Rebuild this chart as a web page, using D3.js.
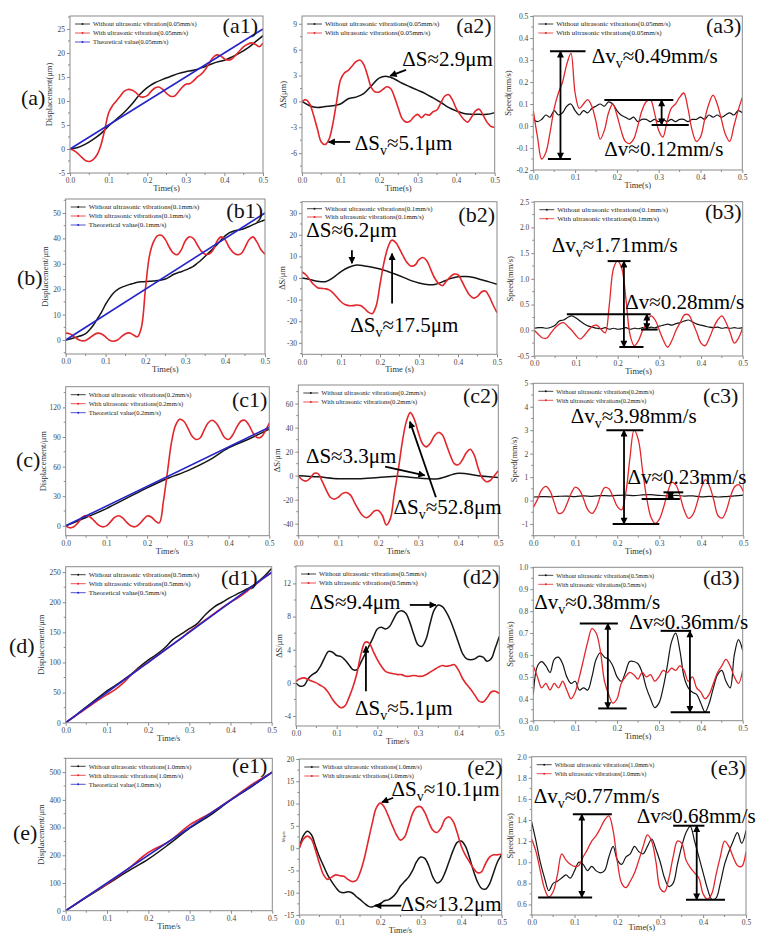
<!DOCTYPE html>
<html><head><meta charset="utf-8">
<script src="https://cdn.jsdelivr.net/npm/d3@7"></script>
<style>body{margin:0;background:#fff}svg{display:block}</style>
</head><body><svg id="c" width="766" height="945"></svg>
<script>
// ---------------- DATA ----------------
const T  = [0,0.01,0.02,0.03,0.04,0.05,0.06,0.07,0.08,0.09,0.1,0.11,0.12,0.13,0.14,0.15,0.16,0.17,0.18,0.19,0.2,0.21,0.22,0.23,0.24,0.25,0.26,0.27,0.28,0.29,0.3,0.31,0.32,0.33,0.34,0.35,0.36,0.37,0.38,0.39,0.4,0.41,0.42,0.43,0.44,0.45,0.46,0.47,0.48,0.49,0.5];
const T2 = [0,0.02,0.04,0.06,0.08,0.1,0.12,0.14,0.16,0.18,0.2,0.22,0.24,0.26,0.28,0.3,0.32,0.34,0.36,0.38,0.4,0.42,0.44,0.46,0.48,0.5];
const T5 = [0,0.05,0.1,0.15,0.2,0.25,0.3,0.35,0.4,0.45,0.5];
const TT = [0,0.5];
const xTicks = [0,0.1,0.2,0.3,0.4,0.5];
const xMinor = [0.05,0.15,0.25,0.35,0.45];

// (a) 0.05 mm/s
const a1_without = [0,0.3,1.0,2.0,3.2,4.8,6.2,7.6,9.3,11.3,12.8,13.8,14.5,15.1,15.7,16.1,16.4,16.9,17.5,18.1,18.5,19.2,20.0,21.0,22.3,23.6];
const a1_with = [0,-0.3,-0.9,-1.7,-2.4,-2.6,-2.2,-1.2,0.8,4.0,7.5,9.0,10.0,11.0,12.0,12.4,12.3,11.8,11.0,10.8,11.1,12.0,12.7,12.9,12.4,11.6,11.0,11.0,11.8,12.8,13.5,13.6,14.2,15.0,15.6,16.5,17.8,19.0,19.6,19.4,18.8,18.5,18.8,19.6,20.5,21.3,21.8,22.1,21.8,21.3,22.1];
const a1_theory = [0,25];
const a2_without = [0,-0.5,-0.7,-0.6,-0.5,-0.3,0.3,0.5,0.9,1.8,2.7,2.9,2.6,2.1,1.7,1.3,0.9,0.4,-0.1,-0.7,-1.1,-1.4,-1.5,-1.5,-1.5,-1.3];
const a2_with = [0,0.2,-0.3,-1.6,-3.2,-4.7,-5.0,-4.4,-2.6,0.0,2.5,3.3,3.6,4.1,4.6,4.8,4.3,3.0,1.6,1.1,1.1,1.4,1.7,1.5,0.5,-0.8,-2.0,-2.4,-2.3,-1.8,-1.5,-1.9,-1.5,-1.6,-1.2,-1.0,-0.2,0.6,0.8,0.2,-0.8,-1.5,-2.1,-2.4,-1.8,-1.1,-0.9,-1.6,-2.4,-2.9,-3.0];
const a3_without = [0.03,0.02,0.03,0.05,0.04,0.07,0.05,0.06,0.09,0.10,0.07,0.05,0.07,0.06,0.08,0.09,0.10,0.09,0.11,0.10,0.07,0.05,0.04,0.03,0.04,0.02,0.03,0.03,0.02,0.03,0.02,0.03,0.02,0.03,0.02,0.03,0.03,0.02,0.03,0.03,0.04,0.03,0.05,0.04,0.05,0.04,0.05,0.06,0.05,0.07,0.06];
const a3_with = [0.07,-0.05,-0.15,-0.12,-0.03,0.08,0.15,0.20,0.28,0.33,0.15,0.08,0.10,0.12,0.09,0.02,-0.06,-0.02,0.06,0.10,0.05,-0.02,-0.07,-0.08,-0.06,0.00,0.07,0.11,0.12,0.06,-0.02,-0.05,0.02,0.08,0.10,0.13,0.15,0.08,-0.02,-0.07,-0.05,0.03,0.10,0.14,0.10,0.03,-0.04,-0.07,0.00,0.07,0.13];

// (b) 0.1 mm/s
const b1_without = [0,0.4,0.8,1.3,1.8,2.5,4.0,6.0,8.5,11.0,14.0,16.5,18.5,19.8,20.7,21.3,21.9,22.3,22.7,22.9,23.0,23.1,23.2,23.4,23.6,24.0,24.8,25.8,26.4,26.9,27.5,28.2,29.0,30.2,31.5,33.0,34.5,36.0,37.6,39.4,41.0,42.2,42.8,43.2,43.5,44.0,44.7,45.4,46.1,46.7,47.3];
const b1_with = [2.7,2.5,1.5,0.3,-0.3,-0.2,0.8,2.0,2.7,2.4,1.2,-0.1,-0.5,0.0,1.3,2.5,2.8,2.0,1.3,5.0,20.0,33.0,38.5,41.0,41.2,39.5,36.5,34.2,33.6,35.5,39.0,40.6,40.0,37.5,35.0,33.8,33.8,35.5,39.0,40.6,39.5,36.5,34.5,33.6,34.0,36.5,39.5,40.6,38.5,35.5,33.8];
const b1_theory = [0,50];
const b2_without = [0,-0.7,-1.5,-1.7,0.2,3.0,5.0,6.0,5.6,5.0,4.2,3.0,1.7,0.3,-1.2,-2.3,-3.0,-3.0,-1.8,-0.3,0.6,0.7,0.2,-0.8,-1.8,-2.9];
const b2_with = [2.8,1.5,-0.8,-3.0,-4.5,-4.8,-5.0,-5.5,-7.0,-9.0,-11.0,-12.3,-12.8,-12.8,-12.5,-12.7,-14.0,-15.8,-16.5,-13.0,-3.0,7.0,14.0,17.5,16.5,13.5,10.0,7.0,5.5,6.0,8.5,9.5,8.0,4.0,0.0,-2.5,-3.5,-1.5,0.5,1.8,1.5,-1.5,-5.0,-8.0,-9.3,-8.5,-6.5,-6.0,-8.5,-12.5,-16.0];
const b3_without = [0.04,0.05,0.05,0.04,0.06,0.10,0.18,0.20,0.25,0.28,0.24,0.18,0.12,0.08,0.06,0.04,0.03,0.05,0.02,0.04,0.02,0.03,0.05,0.02,0.04,0.03,0.05,0.04,0.06,0.05,0.08,0.10,0.12,0.10,0.13,0.15,0.18,0.20,0.16,0.12,0.10,0.08,0.06,0.05,0.06,0.04,0.05,0.04,0.05,0.04,0.05];
const b3_with = [0.0,-0.08,-0.15,-0.15,-0.05,0.05,0.12,0.15,0.08,0.0,-0.1,-0.17,-0.1,0.0,0.08,0.1,0.02,-0.05,0.5,1.2,1.35,1.2,0.6,-0.1,-0.3,-0.2,0.0,0.15,0.28,0.2,0.0,-0.2,-0.33,-0.2,0.0,0.15,0.3,0.3,0.15,-0.05,-0.25,-0.3,-0.15,0.05,0.2,0.28,0.15,-0.05,-0.25,-0.15,0.05];

// (c) 0.2 mm/s
const c1_without = [0,8.5,17.5,28,38.5,48,56,66,79,88,98];
const c1_with = [0,-2,-1,3,8.5,10.5,9,5,1,-1,0,4,8.5,10.2,8,3.5,0,-1,1.5,6,10,9,5,3,25,55,85,102,108,106,99,91,87.5,89,97,104.5,107,104,97,89.5,87.5,92,100,106,107,102,94,89.5,90,96,104];
const c1_theory = [0,100];
const c2_without = [0,-1,-2.5,-2.5,-1.5,-0.5,-2,-2.5,2,0,-1.5];
const c2_with = [0,-3.5,-4.5,-2,2,1.5,-5,-12,-18,-19.5,-18,-15,-14,-16,-22,-28,-33,-35,-33,-29.5,-29,-33,-41,-36,-15,5,28,45,52.5,47,36,27,24,27,33,36,34,26,17,10,9,13,19,22,17,6,-2,-5,-4,0,4];
const c3_without = [0.15,0.17,0.16,0.18,0.19,0.17,0.2,0.18,0.21,0.2,0.22,0.23,0.21,0.24,0.25,0.22,0.2,0.22,0.19,0.2,0.16,0.18,0.15,0.17,0.2,0.23];
const c3_with = [-0.3,0.05,0.45,0.6,0.4,-0.1,-0.55,-0.5,-0.15,0.3,0.57,0.45,0.05,-0.4,-0.55,-0.3,0.2,0.55,0.5,0.15,-0.25,-0.4,0.3,1.8,3.0,2.6,1.3,0.1,-0.7,-0.97,-0.8,-0.3,0.35,0.77,0.65,0.15,-0.45,-0.76,-0.6,-0.1,0.55,0.89,0.6,0.0,-0.65,-0.75,-0.4,0.2,0.6,0.67,0.39];

// (d) 0.5 mm/s
const d1_without = [0,10,21,31.5,42,53,61.5,71,81,93,104,113,124,138,147,156,165,180,192,200,208,215,222,230,242,256];
const d1_with = [0,9.5,19,28.5,38,46.5,55,66,80,91,100,110,120,130,140,151,161,171,181,191,200,208,218,229,240,249];
const d1_theory = [0,250];
const d2_without = [0,-0.4,-0.3,0.5,1.0,1.3,2.0,3.0,3.8,3.7,3.3,3.2,2.8,2.2,1.6,1.6,2.5,3.5,4.5,5.5,6.5,6.7,6.5,6.8,7.7,8.5,8.7,8.4,7.3,5.8,4.6,4.4,5.3,7.2,8.8,9.4,9.2,8.5,7.5,6.2,4.8,3.5,2.9,2.8,2.9,3.2,3.1,2.6,2.9,4.2,5.6];
const d2_with = [0.2,0.5,0.6,0.4,0.2,0.0,-0.3,-0.6,-1.2,-2.0,-2.6,-3.0,-2.8,-1.8,-0.5,1.2,3.5,4.9,4.8,3.8,2.8,2.0,1.4,1.2,1.1,1.0,1.0,0.8,0.8,0.9,0.8,0.8,1.0,1.3,1.6,1.9,2.1,2.0,2.1,2.2,1.5,0.5,-0.2,-0.8,-1.5,-2.2,-2.3,-1.8,-1.1,-1.0,-1.3];
const d3_without = [0.42,0.55,0.57,0.55,0.52,0.58,0.59,0.56,0.5,0.47,0.48,0.44,0.45,0.44,0.5,0.58,0.61,0.59,0.58,0.55,0.5,0.48,0.52,0.57,0.57,0.56,0.52,0.45,0.4,0.36,0.38,0.45,0.55,0.66,0.7,0.62,0.5,0.45,0.43,0.42,0.38,0.34,0.38,0.45,0.51,0.53,0.48,0.45,0.6,0.67,0.62];
const d3_with = [0.55,0.5,0.45,0.47,0.44,0.47,0.45,0.48,0.44,0.4,0.43,0.5,0.58,0.66,0.72,0.7,0.62,0.48,0.42,0.38,0.4,0.47,0.5,0.52,0.51,0.49,0.52,0.5,0.51,0.48,0.5,0.53,0.52,0.54,0.53,0.55,0.53,0.48,0.5,0.45,0.43,0.4,0.42,0.47,0.52,0.55,0.58,0.55,0.5,0.47,0.53];

// (e) 1.0 mm/s
const e1_without = [0,48,95,142,186,240,298,345,400,448,500];
const e1_with = [0,50,97,150,210,250,310,352,402,455,500];
const e1_theory = [0,500];
const e2_without = [0,2.8,3.8,3.0,0.5,-2.0,-4.0,-6.0,-7.5,-8.8,-9.8,-10.0,-9.8,-10.0,-10.8,-11.5,-12.3,-13.0,-13.2,-12.8,-12.5,-11.8,-11.6,-11.0,-10.0,-8.5,-7.5,-6.5,-5.0,-3.0,-2.0,-2.3,-4.0,-6.5,-7.8,-7.3,-5.5,-3.0,-0.5,1.3,1.6,0.5,-2.0,-5.0,-7.5,-9.0,-9.2,-8.0,-5.5,-3.0,-1.5];
const e2_with = [0,2.0,2.7,2.0,-0.5,-3.5,-6.0,-7.0,-6.5,-6.0,-6.2,-6.3,-7.0,-7.5,-7.3,-5.5,-2.5,1.5,5.5,9.0,10.1,9.2,7.2,5.0,3.0,1.8,2.5,5.0,7.8,9.2,9.3,8.0,5.8,4.0,3.5,4.5,6.5,7.0,6.0,3.5,0.5,-1.5,-3.0,-4.5,-5.5,-5.3,-3.5,-2.0,-1.5,-1.5,-1.3];
const e3_without = [1.38,1.2,1.0,0.85,0.73,0.8,0.82,0.85,0.88,0.85,0.92,1.0,0.98,0.92,0.96,0.92,0.9,0.92,1.05,1.15,1.02,0.98,1.05,1.08,1.15,1.1,1.08,1.15,1.22,1.12,1.0,0.85,0.77,0.8,0.98,1.15,1.28,1.34,1.2,1.05,0.9,0.75,0.65,0.66,0.8,0.98,1.1,1.2,1.28,1.18,1.3];
const e3_with = [1.22,1.1,0.92,0.75,0.67,0.72,0.88,1.08,1.02,0.98,0.96,0.97,1.05,1.12,1.2,1.25,1.32,1.4,1.44,1.3,1.0,0.8,0.76,0.82,0.9,1.02,1.15,1.26,1.2,1.0,0.75,0.72,0.85,1.05,1.2,1.18,1.02,0.95,0.9,0.85,0.7,0.65,0.7,0.88,1.05,1.2,1.15,1.05,0.97,0.96,1.1];

// y tick labels
const a1Ticks = [-5,0,5,10,15,20,25];
const a2Ticks = [-6,-3,0,3,6,9];
const a3Ticks = [-0.2,-0.1,0,0.1,0.2,0.3,0.4,0.5];
const b1Ticks = [0,10,20,30,40,50];
const b2Ticks = [-30,-20,-10,0,10,20,30];
const b3Ticks = [-0.5,0,0.5,1,1.5,2,2.5];
const c1Ticks = [0,30,60,90,120];
const c2Ticks = [-40,-20,0,20,40,60];
const c3Ticks = [-1,0,1,2,3,4,5];
const d1Ticks = [0,50,100,150,200,250];
const d2Ticks = [-4,0,4,8,12];
const d3Ticks = [0.3,0.4,0.5,0.6,0.7,0.8,0.9,1.0];
const e1Ticks = [0,100,200,300,400,500];
const e2Ticks = [-15,-10,-5,0,5,10,15,20];
const e3Ticks = [0.6,0.8,1.0,1.2,1.4,1.6,1.8,2.0];

// annotation texts and arrows (data units)
const a2Notes = [{t:0.26,v:4.05,s:['ΔS≈2.9μm']},{t:0.137,v:-5.6,s:['ΔS','v','≈5.1μm']}];
const a2Marks = [[0.27,3.66,0.229,2.96,'arrow'],[0.125,-4.7,0.069,-4.7,'arrow']];
const a3Notes = [{t:0.14,v:0.286,s:['Δv','v','≈0.49mm/s']},{t:0.17,v:-0.136,s:['Δv≈0.12mm/s']}];
const a3Marks = [[0.04,0.34,0.125,0.34,'line'],[0.035,-0.15,0.09,-0.15,'line'],[0.065,0.34,0.065,-0.15,'darrow'],[0.17,0.118,0.335,0.118,'line'],[0.283,0.005,0.372,0.005,'line'],[0.307,0.118,0.307,0.005,'darrow']];
const b2Notes = [{t:0.011,v:18.9,s:['ΔS≈6.2μm']},{t:0.124,v:-24.9,s:['ΔS','v','≈17.5μm']}];
const b2Marks = [[0.128,12.8,0.128,6.8,'arrow'],[0.231,-11.8,0.231,11.3,'arrow']];
const b3Notes = [{t:0.042,v:1.526,s:['Δv','v','≈1.71mm/s']},{t:0.218,v:0.423,s:['Δv≈0.28mm/s']}];
const b3Marks = [[0.176,1.345,0.231,1.345,'line'],[0.204,-0.325,0.262,-0.325,'line'],[0.215,1.345,0.215,-0.325,'darrow'],[0.078,0.312,0.279,0.312,'line'],[0.256,0.014,0.296,0.014,'line'],[0.27,0.312,0.27,0.014,'darrow']];
const c2Notes = [{t:0.019,v:10.8,s:['ΔS≈3.3μm']},{t:0.238,v:-31.7,s:['ΔS','v','≈52.8μm']}];
const c2Marks = [[0.217,7.5,0.316,0.3,'arrow'],[0.344,-18,0.279,45,'arrow']];
const c3Notes = [{t:0.089,v:3.29,s:['Δv','v','≈3.98mm/s']},{t:0.224,v:0.71,s:['Δv≈0.23mm/s']}];
const c3Marks = [[0.174,3.0,0.262,3.0,'line'],[0.189,-1.0,0.300,-1.0,'line'],[0.216,3.0,0.216,-1.0,'darrow'],[0.258,0.07,0.349,0.07,'line'],[0.31,0.35,0.357,0.35,'line'],[0.327,0.35,0.327,0.07,'darrow']];
const d2Notes = [{t:0.034,v:8.9,s:['ΔS≈9.4μm']},{t:0.145,v:-3.9,s:['ΔS','v','≈5.1μm']}];
const d2Marks = [[0.28,9.4,0.344,9.4,'arrow'],[0.172,-1.0,0.172,4.4,'arrow']];
const d3Notes = [{t:0.002,v:0.81,s:['Δv','v','≈0.38mm/s']},{t:0.229,v:0.72,s:['Δv≈0.36mm/s']}];
const d3Marks = [[0.111,0.744,0.202,0.744,'line'],[0.155,0.356,0.223,0.356,'line'],[0.178,0.744,0.178,0.356,'darrow'],[0.304,0.71,0.377,0.71,'line'],[0.328,0.338,0.422,0.338,'line'],[0.374,0.71,0.374,0.338,'darrow']];
const e2Notes = [{t:0.228,v:11.6,s:['ΔS','v','≈10.1μm']},{t:0.25,v:-14.0,s:['ΔS≈13.2μm']}];
const e2Marks = [[0.232,11.3,0.204,10.3,'arrow'],[0.252,-12.9,0.187,-12.9,'arrow']];
const e3Notes = [{t:0.005,v:1.565,s:['Δv','v','≈0.77mm/s']},{t:0.245,v:1.375,s:['Δv≈0.68mm/s']}];
const e3Marks = [[0.096,1.454,0.187,1.454,'line'],[0.015,0.667,0.141,0.667,'line'],[0.117,1.454,0.117,0.667,'darrow'],[0.33,1.346,0.403,1.346,'line'],[0.36,0.645,0.451,0.645,'line'],[0.385,1.346,0.385,0.645,'darrow']];

// ---------------- DRAWING ----------------
const FONT = '"Liberation Serif","Times New Roman",Times,serif';
const BLACK = '#151515', RED = '#e2262b', BLUE = '#2424c8', AX = '#8a8a8a', TXT = '#444';
const svg = d3.select('#c');
svg.append('rect').attr('width',766).attr('height',945).attr('fill','#fff');
const defs = svg.append('defs');
defs.append('marker').attr('id','ah').attr('viewBox','0 0 10 10').attr('refX',9).attr('refY',5)
  .attr('markerWidth',8).attr('markerHeight',7).attr('markerUnits','userSpaceOnUse')
  .attr('orient','auto-start-reverse').append('path').attr('d','M0,0L10,5L0,10z').attr('fill','#000');

function S(t,v,c,w){ return {t:t,v:v,c:c,w:w}; }
function leg3(sp, sing){ const vb = sing ? 'vibration' : 'vibrations';
  return [['Without ultrasonic '+vb+'('+sp+')',BLACK],['With ultrasonic '+vb+'('+sp+')',RED],['Theoretical value('+sp+')',BLUE]]; }
function leg2(sp){ return [['Without ultrasonic vibrations('+sp+')',BLACK],['With ultrasonic vibrations('+sp+')',RED]]; }

const panels = [
 {id:'a1',box:[70,16,263,173],yd:[-5,27.7],yt:a1Ticks,dec:0,minor:2.5,yl:'Displacement(μm)',xl:'Time(s)',yo:18,lab:'(a1)',lr:5,lb:17,lf:6.5,
  leg:leg3('0.05mm/s',true),ser:[S(T2,a1_without,BLACK,1.5),S(T,a1_with,RED,1.6),S(TT,a1_theory,BLUE,1.6)]},
 {id:'a2',box:[302,16,494.7,173],yd:[-8.3,9.9],yt:a2Ticks,dec:0,minor:1.5,yl:'ΔS(μm)',xl:'Time(s)',yo:16,lab:'(a2)',lr:3,lb:17,lf:7,
  leg:leg2('0.05mm/s'),ser:[S(T2,a2_without,BLACK,1.5),S(T,a2_with,RED,1.6)],notes:a2Notes,marks:a2Marks},
 {id:'a3',box:[533.3,16,742.3,170],yd:[-0.2,0.5],yt:a3Ticks,dec:1,minor:0.05,yl:'Speed(mm/s)',xl:'Time(s)',yo:22,lab:'(a3)',lr:1,lb:17,lf:7,
  leg:leg2('0.05mm/s'),ser:[S(T,a3_without,BLACK,1.2),S(T,a3_with,RED,1.3)],notes:a3Notes,marks:a3Marks},
 {id:'b1',box:[65.7,199,265,354],yd:[-5.5,55.5],yt:b1Ticks,dec:0,minor:5,yl:'Displacement/μm',xl:'Time(s)',yo:18,lab:'(b1)',lr:2,lb:19,lf:7,
  leg:leg3('0.1mm/s',false),ser:[S(T,b1_without,BLACK,1.5),S(T,b1_with,RED,1.6),S(TT,b1_theory,BLUE,1.6)]},
 {id:'b2',box:[302,201.7,497,354.3],yd:[-35.3,35.3],yt:b2Ticks,dec:0,minor:5,yl:'ΔS/μm',xl:'Time (s)',yo:17,lab:'(b2)',lr:2,lb:20,lf:6.8,lt:7,ls:8.3,
  leg:leg2('0.1mm/s'),ser:[S(T2,b2_without,BLACK,1.5),S(T,b2_with,RED,1.6)],notes:b2Notes,marks:b2Marks},
 {id:'b3',box:[534.3,201.7,742.7,356],yd:[-0.5,2.5],yt:b3Ticks,dec:1,minor:0.25,yl:'Speed(mm/s)',xl:'Time(s)',yo:21,lab:'(b3)',lr:1,lb:17,lf:7,
  leg:leg2('0.1mm/s'),ser:[S(T,b3_without,BLACK,1.2),S(T,b3_with,RED,1.3)],notes:b3Notes,marks:b3Marks},
 {id:'c1',box:[65.7,386.7,269.3,535.7],yd:[-10,141],yt:c1Ticks,dec:0,minor:15,yl:'Displacement/μm',xl:'Time/s',yo:20,lab:'(c1)',lr:2,lb:20,lf:6.5,
  leg:leg3('0.2mm/s',false),ser:[S(T5,c1_without,BLACK,1.5),S(T,c1_with,RED,1.6),S(TT,c1_theory,BLUE,1.6)]},
 {id:'c2',box:[298.3,385,498.3,535.7],yd:[-50,75.5],yt:c2Ticks,dec:0,minor:10,yl:'ΔS/μm',xl:'Time/s',yo:18,lab:'(c2)',lr:0,lb:18,lf:6.6,
  leg:leg2('0.2mm/s'),ser:[S(T5,c2_without,BLACK,1.5),S(T,c2_with,RED,1.6)],notes:c2Notes,marks:c2Marks},
 {id:'c3',box:[533.3,383.3,743.3,535.7],yd:[-1.5,5],yt:c3Ticks,dec:0,minor:0.5,yl:'Speed(mm/s)',xl:'Time(s)',yo:16,lab:'(c3)',lr:5,lb:20,lf:6.2,
  leg:leg2('0.2mm/s'),ser:[S(T2,c3_without,BLACK,1.2),S(T,c3_with,RED,1.3)],notes:c3Notes,marks:c3Marks},
 {id:'d1',box:[65.7,566.7,271.7,722.7],yd:[0,259],yt:d1Ticks,dec:0,minor:25,yl:'Displacement/μm',xl:'Time/s',yo:22,lab:'(d1)',lr:14,lb:18,lf:7,
  leg:leg3('0.5mm/s',false),ser:[S(T2,d1_without,BLACK,1.5),S(T2,d1_with,RED,1.6),S(TT,d1_theory,BLUE,1.6)]},
 {id:'d2',box:[296,566,499.3,726],yd:[-5.2,14.1],yt:d2Ticks,dec:0,minor:2,yl:'ΔS/μm',xl:'Time/s',yo:14,lab:'(d2)',lr:0,lb:18,lf:6.8,
  leg:leg2('0.5mm/s'),ser:[S(T,d2_without,BLACK,1.5),S(T,d2_with,RED,1.6)],notes:d2Notes,marks:d2Marks},
 {id:'d3',box:[533.3,567.3,742.7,720.7],yd:[0.3,1.0],yt:d3Ticks,dec:1,minor:0.05,yl:'Speed(mm/s)',xl:'Time(s)',yo:20,lab:'(d3)',lr:3,lb:18,lf:6.2,
  leg:leg2('0.5mm/s'),ser:[S(T,d3_without,BLACK,1.2),S(T,d3_with,RED,1.3)],notes:d3Notes,marks:d3Marks},
 {id:'e1',box:[65.7,758.3,272.3,910.7],yd:[0,550],yt:e1Ticks,dec:0,minor:50,yl:'Displacement/μm',xl:'Time/s',yo:22,lab:'(e1)',lr:5,lb:15,lf:6.5,
  leg:leg3('1.0mm/s',false),ser:[S(T5,e1_without,BLACK,1.5),S(T5,e1_with,RED,1.6),S(TT,e1_theory,BLUE,1.6)]},
 {id:'e2',box:[299.3,759,501.7,915],yd:[-15,20],yt:e2Ticks,dec:0,minor:2.5,yl:'ΔS/μm',ylSmall:true,xl:'Time/s',yo:14,lab:'(e2)',lr:-1,lb:16,lf:6.3,
  leg:leg2('1.0mm/s'),ser:[S(T,e2_without,BLACK,1.5),S(T,e2_with,RED,1.6)],notes:e2Notes,marks:e2Marks},
 {id:'e3',box:[531.7,756.7,746,915],yd:[0.5,2.0],yt:e3Ticks,dec:1,minor:0.1,yl:'Speed(mm/s)',xl:'Time(s)',xlIn:true,yo:19,lab:'(e3)',lr:0,lb:18,lf:6.3,
  leg:leg2('1.0mm/s'),ser:[S(T,e3_without,BLACK,1.2),S(T,e3_with,RED,1.3)],notes:e3Notes,marks:e3Marks}
];

const rowLabels = [['(a)',21,105],['(b)',17,285],['(c)',16,467],['(d)',9,653],['(e)',13,840]];

function drawPanel(p){
  const [L,Tp,R,B] = p.box;
  const x = d3.scaleLinear().domain([0,0.5]).range([L,R]);
  const y = d3.scaleLinear().domain(p.yd).range([B,Tp]);
  const g = svg.append('g');
  const cid = 'clip_'+p.id;
  defs.append('clipPath').attr('id',cid).append('rect').attr('x',L).attr('y',Tp).attr('width',R-L).attr('height',B-Tp);

  // x axis
  const gx = g.append('g').attr('transform','translate(0,'+B+')')
    .call(d3.axisBottom(x).tickValues(xTicks).tickSize(3).tickPadding(2).tickFormat(d=>d.toFixed(1)));
  gx.select('.domain').remove();
  gx.selectAll('line').attr('stroke',AX);
  gx.selectAll('text').attr('font-family',FONT).attr('font-size',7.5).attr('fill',TXT);
  g.append('g').selectAll('line').data(xMinor).join('line')
    .attr('x1',d=>x(d)).attr('x2',d=>x(d)).attr('y1',B).attr('y2',B+2).attr('stroke',AX);

  // y axis
  const gy = g.append('g').attr('transform','translate('+L+',0)')
    .call(d3.axisLeft(y).tickValues(p.yt).tickSize(3).tickPadding(2).tickFormat(d=>d.toFixed(p.dec)));
  gy.select('.domain').remove();
  gy.selectAll('line').attr('stroke',AX);
  gy.selectAll('text').attr('font-family',FONT).attr('font-size',7.5).attr('fill',TXT);
  const mn = d3.range(Math.ceil(p.yd[0]/p.minor)*p.minor, p.yd[1]+1e-9, p.minor)
      .filter(v => !p.yt.some(t=>Math.abs(t-v)<1e-9));
  g.append('g').selectAll('line').data(mn).join('line')
    .attr('x1',L-2).attr('x2',L).attr('y1',d=>y(d)).attr('y2',d=>y(d)).attr('stroke',AX);

  // axis titles
  if (p.xlIn) {
    g.append('text').attr('x',(L+R)/2+3).attr('y',B+15).attr('text-anchor','middle')
      .attr('font-family',FONT).attr('font-size',8.5).attr('fill','#333').text(p.xl);
  } else {
    g.append('text').attr('x',(L+R)/2).attr('y',B+18).attr('text-anchor','middle')
      .attr('font-family',FONT).attr('font-size',8.5).attr('fill','#333').text(p.xl);
  }
  g.append('text').attr('transform','translate('+(L-p.yo)+','+((Tp+B)/2)+') rotate(-90)')
    .attr('text-anchor','middle').attr('font-family',FONT).attr('font-size',p.ylSmall?4:8.5).attr('fill','#333').text(p.yl);

  // series
  const line = d3.line().curve(d3.curveCatmullRom.alpha(0.5));
  const gs = g.append('g').attr('clip-path','url(#'+cid+')');
  p.ser.forEach(s=>{
    const n = Math.min(s.t.length, s.v.length);
    const pts = d3.range(n).map(i=>[x(s.t[i]), y(s.v[i])]);
    gs.append('path').attr('d',line(pts)).attr('fill','none').attr('stroke',s.c)
      .attr('stroke-width',s.w).attr('stroke-linejoin','round');
  });

  // frame
  g.append('rect').attr('x',L).attr('y',Tp).attr('width',R-L).attr('height',B-Tp)
    .attr('fill','none').attr('stroke',AX).attr('stroke-width',1);

  // legend
  const lt = p.lt || 8, ls = p.ls || 9;
  p.leg.forEach((e,i)=>{
    const yy = Tp + lt + i*ls;
    g.append('line').attr('x1',L+5).attr('x2',L+20).attr('y1',yy).attr('y2',yy).attr('stroke',e[1]).attr('stroke-width',0.8);
    g.append('circle').attr('cx',L+12.5).attr('cy',yy).attr('r',1).attr('fill',e[1]);
    g.append('text').attr('x',L+23).attr('y',yy+2.2).attr('font-family',FONT).attr('font-size',p.lf).attr('fill','#222').text(e[0]);
  });

  // panel label
  g.append('text').attr('x',R-p.lr).attr('y',Tp+p.lb).attr('text-anchor','end')
    .attr('font-family',FONT).attr('font-size',22).attr('fill','#111').text(p.lab);

  // annotations
  (p.marks||[]).forEach(m=>{
    const ln = g.append('line').attr('x1',x(m[0])).attr('y1',y(m[1])).attr('x2',x(m[2])).attr('y2',y(m[3]))
      .attr('stroke','#000').attr('stroke-width',m[4]==='line'?2:1.8);
    if (m[4]==='arrow' || m[4]==='darrow') ln.attr('marker-end','url(#ah)');
    if (m[4]==='darrow') ln.attr('marker-start','url(#ah)');
  });
  (p.notes||[]).forEach(n=>{
    const tx = g.append('text').attr('x',x(n.t)).attr('y',y(n.v)).attr('font-family',FONT).attr('font-size',21).attr('fill','#000');
    tx.append('tspan').text(n.s[0]);
    if (n.s.length>1){
      tx.append('tspan').attr('font-size',14).attr('dy',5).text(n.s[1]);
      tx.append('tspan').attr('dy',-5).text(n.s[2]);
    }
  });
}

panels.forEach(drawPanel);
rowLabels.forEach(r=>{
  svg.append('text').attr('x',r[1]).attr('y',r[2]).attr('font-family',FONT).attr('font-size',22).attr('fill','#111').text(r[0]);
});
</script>
</body></html>
